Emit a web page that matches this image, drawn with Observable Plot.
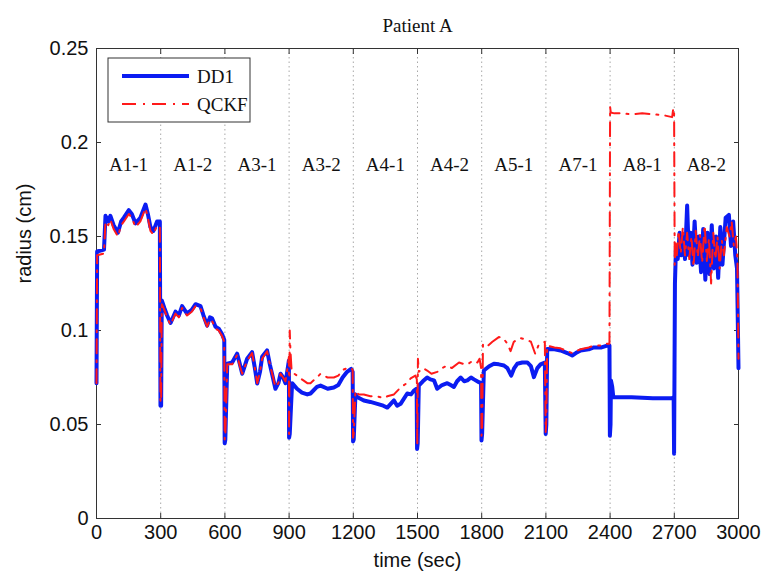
<!DOCTYPE html>
<html><head><meta charset="utf-8">
<script src="https://cdn.jsdelivr.net/npm/d3@7"></script>
<script src="https://cdn.jsdelivr.net/npm/@observablehq/plot@0.6"></script>
<style>body{margin:0;background:#fff}#chart{width:764px;height:575px}</style>
</head><body><div id="chart"></div>
<script>
const title = "Patient A";
const xLabel = "time (sec)";
const yLabel = "radius (cm)";
const xTicks = [0,300,600,900,1200,1500,1800,2100,2400,2700,3000];
const xTickLabels = ["0","300","600","900","1200","1500","1800","2100","2400","2700","3000"];
const yTicks = [0,0.05,0.1,0.15,0.2,0.25];
const yTickLabels = ["0","0.05","0.1","0.15","0.2","0.25"];
const gridTimes = [300,600,900,1200,1500,1800,2100,2400,2700];
const segmentBounds = [0,300,600,900,1200,1500,1800,2100,2400,2700,3000];
const segmentNames = ["A1-1","A1-2","A3-1","A3-2","A4-1","A4-2","A5-1","A7-1","A8-1","A8-2"];
const segmentLabelY = 0.188;
const seriesNames = ["DD1","QCKF"];

const dd1Time = [0,3,35,42,55,65,80,100,115,128,151,165,182,205,229,240,252,266,283,296,299,302,305,317,330,346,369,385,400,423,445,463,486,500,517,530,540,556,571,587,597,599,602,611,634,657,670,681,704,727,740,751,764,774,797,810,821,836,850,860,872,883,895,899,900,903,914,937,960,985,1000,1030,1047,1080,1109,1130,1150,1171,1190,1197,1199,1202,1210,1218,1249,1280,1312,1340,1359,1375,1390,1405,1421,1452,1470,1483,1496,1498,1501,1506,1525,1545,1560,1577,1592,1615,1639,1655,1670,1685,1702,1718,1733,1750,1764,1787,1797,1799,1802,1810,1835,1857,1880,1904,1920,1938,1952,1966,1990,2013,2030,2044,2060,2075,2095,2099,2102,2106,2140,2168,2200,2223,2240,2262,2300,2324,2360,2386,2397,2399,2402,2404,2410,2415,2500,2600,2690,2697,2699,2701,2703,2708,2716,2725,2733,2742,2750,2760,2768,2776,2785,2795,2805,2815,2825,2835,2845,2855,2865,2875,2885,2895,2905,2915,2925,2940,2955,2965,2975,2985,2993,3000];
const dd1Radius = [0.072,0.142,0.143,0.161,0.158,0.161,0.156,0.152,0.158,0.160,0.164,0.162,0.157,0.160,0.167,0.162,0.155,0.153,0.158,0.158,0.060,0.060,0.116,0.112,0.108,0.104,0.110,0.108,0.113,0.109,0.111,0.114,0.113,0.108,0.1026,0.107,0.1065,0.102,0.101,0.098,0.095,0.040,0.042,0.0824,0.083,0.0877,0.082,0.077,0.085,0.0885,0.080,0.0718,0.078,0.086,0.0894,0.082,0.0766,0.069,0.072,0.077,0.075,0.072,0.081,0.084,0.043,0.045,0.072,0.069,0.067,0.066,0.0665,0.070,0.0707,0.069,0.0697,0.071,0.075,0.078,0.0796,0.078,0.041,0.042,0.066,0.0646,0.0628,0.062,0.061,0.060,0.059,0.061,0.0628,0.060,0.061,0.0665,0.066,0.068,0.069,0.037,0.040,0.0707,0.073,0.075,0.074,0.0735,0.069,0.071,0.072,0.071,0.070,0.073,0.075,0.073,0.0735,0.075,0.074,0.0725,0.072,0.0415,0.045,0.0787,0.081,0.0823,0.082,0.0814,0.080,0.076,0.080,0.0823,0.083,0.083,0.081,0.0752,0.080,0.082,0.083,0.045,0.050,0.0902,0.090,0.0894,0.088,0.0867,0.088,0.0894,0.090,0.091,0.091,0.092,0.092,0.044,0.050,0.0734,0.070,0.0645,0.0645,0.064,0.064,0.0645,0.0345,0.0805,0.125,0.145,0.138,0.152,0.140,0.150,0.138,0.1665,0.140,0.152,0.135,0.158,0.136,0.150,0.131,0.154,0.127,0.152,0.130,0.156,0.133,0.150,0.128,0.155,0.135,0.160,0.1615,0.145,0.158,0.140,0.133,0.080];

const qckfTime = [0,3,35,42,55,65,80,100,115,128,151,165,182,205,229,240,252,266,283,296,299,302,305,317,330,346,369,385,400,423,445,463,486,500,517,530,540,556,571,587,597,599,602,611,634,657,670,681,704,727,740,751,764,774,797,810,821,836,850,860,872,883,895,899,900,903,906,912,937,960,985,1000,1030,1047,1080,1109,1130,1150,1171,1190,1197,1199,1202,1210,1225,1249,1280,1312,1340,1359,1390,1421,1450,1468,1490,1497,1499,1502,1506,1525,1545,1565,1592,1615,1639,1660,1694,1720,1733,1760,1780,1790,1797,1799,1802,1806,1810,1830,1850,1880,1900,1920,1935,1950,1980,2010,2030,2050,2065,2080,2095,2099,2102,2106,2140,2168,2200,2223,2240,2262,2300,2324,2360,2386,2397,2400,2403,2420,2450,2500,2550,2600,2650,2690,2695,2699,2702,2706,2712,2720,2730,2740,2750,2760,2770,2780,2790,2800,2810,2820,2830,2842,2852,2862,2872,2882,2892,2902,2912,2922,2932,2945,2958,2968,2978,2988,2995,3000];
const qckfRadius = [0.072,0.140,0.141,0.158,0.156,0.159,0.154,0.150,0.156,0.158,0.162,0.160,0.155,0.158,0.165,0.160,0.153,0.151,0.156,0.155,0.062,0.062,0.114,0.111,0.107,0.103,0.109,0.107,0.112,0.108,0.110,0.113,0.112,0.107,0.102,0.106,0.105,0.101,0.100,0.097,0.094,0.042,0.044,0.082,0.082,0.087,0.081,0.077,0.084,0.088,0.080,0.072,0.078,0.085,0.089,0.082,0.077,0.070,0.072,0.077,0.075,0.073,0.082,0.086,0.045,0.100,0.090,0.078,0.076,0.074,0.072,0.072,0.075,0.077,0.075,0.075,0.076,0.079,0.080,0.080,0.079,0.043,0.045,0.068,0.066,0.066,0.065,0.065,0.064,0.065,0.066,0.0697,0.072,0.0745,0.076,0.074,0.040,0.085,0.078,0.080,0.0787,0.077,0.078,0.080,0.0814,0.080,0.083,0.082,0.082,0.084,0.083,0.085,0.080,0.044,0.048,0.093,0.093,0.092,0.094,0.0965,0.096,0.093,0.089,0.094,0.096,0.095,0.094,0.0876,0.092,0.093,0.094,0.046,0.052,0.092,0.091,0.0905,0.089,0.088,0.089,0.090,0.091,0.092,0.092,0.093,0.093,0.219,0.216,0.2155,0.2155,0.215,0.2155,0.215,0.2145,0.2135,0.218,0.218,0.135,0.148,0.140,0.153,0.141,0.155,0.140,0.152,0.138,0.150,0.134,0.153,0.139,0.151,0.136,0.156,0.137,0.149,0.125,0.152,0.138,0.150,0.133,0.148,0.140,0.155,0.150,0.158,0.145,0.150,0.138,0.085];

const dd1 = dd1Time.map((t, i) => ({t, r: dd1Radius[i]}));
const qckf = qckfTime.map((t, i) => ({t, r: qckfRadius[i]}));
const segments = segmentNames.map((name, i) => ({name, t: (segmentBounds[i] + segmentBounds[i + 1]) / 2}));

const serif = "'Liberation Serif', 'Times New Roman', serif";
const sans = "'Liberation Sans', Arial, sans-serif";
const blue = "#0b1cf2";
const red = "#ff1a1a";
const seriesStyles = [
  {stroke: blue, width: 4, dash: null},
  {stroke: red, width: 2, dash: "14,7,2,7"}
];

function legendMark(index, scales, values, dims) {
  const g = d3.create("svg:g");
  const x0 = dims.marginLeft + 12, y0 = dims.marginTop + 10;
  g.append("rect").attr("x", x0).attr("y", y0).attr("width", 142).attr("height", 64)
    .attr("fill", "#fff").attr("stroke", "#333").attr("stroke-width", 1);
  seriesNames.forEach((name, i) => {
    const s = seriesStyles[i];
    const y = y0 + 18 + i * 28;
    const ln = g.append("line").attr("x1", x0 + 14).attr("x2", x0 + 81).attr("y1", y).attr("y2", y)
      .attr("stroke", s.stroke).attr("stroke-width", s.width);
    if (s.dash) ln.attr("stroke-dasharray", s.dash);
    g.append("text").attr("x", x0 + 89).attr("y", y + 7).attr("font-family", serif)
      .attr("text-anchor", "start").attr("font-size", 19).attr("fill", "#111").text(name);
  });
  return g.node();
}

const chart = Plot.plot({
  width: 764, height: 575,
  marginLeft: 96, marginRight: 26, marginTop: 48, marginBottom: 57,
  style: {fontFamily: sans, fontSize: "20px", background: "#fff", color: "#111"},
  x: {domain: [0, 3000], ticks: xTicks},
  y: {domain: [0, 0.25], ticks: yTicks},
  marks: [
    Plot.gridX(gridTimes, {stroke: "#a8a8a8", strokeOpacity: 1, strokeDasharray: "1.5,3"}),
    Plot.frame({stroke: "#333"}),
    Plot.axisX(xTicks, {anchor: "bottom", tickSize: 0, tickPadding: 6, tickFormat: d => xTickLabels[xTicks.indexOf(d)], label: null, fontSize: 20, fill: "#111"}),
    Plot.axisX(xTicks, {anchor: "bottom", tickSize: -5, tickFormat: () => "", label: null, stroke: "#333"}),
    Plot.axisX(xTicks, {anchor: "top", tickSize: -5, tickFormat: () => "", label: null, stroke: "#333"}),
    Plot.axisY(yTicks, {anchor: "left", tickSize: 0, tickPadding: 8, tickFormat: d => yTickLabels[yTicks.indexOf(d)], label: null, fontSize: 20, fill: "#111"}),
    Plot.axisY(yTicks, {anchor: "left", tickSize: -5, tickFormat: () => "", label: null, stroke: "#333"}),
    Plot.axisY(yTicks, {anchor: "right", tickSize: -5, tickFormat: () => "", label: null, stroke: "#333"}),
    Plot.line(dd1, {x: "t", y: "r", stroke: blue, strokeWidth: 4, strokeLinejoin: "round"}),
    Plot.line(qckf, {x: "t", y: "r", stroke: red, strokeWidth: 2, strokeDasharray: "14,7,2,7"}),
    Plot.text(segments, {x: "t", y: () => segmentLabelY, text: "name", fontFamily: serif, fontSize: 19, fill: "#111"}),
    Plot.text([title], {frameAnchor: "top", lineAnchor: "middle", dy: -23, text: d => d, fontFamily: serif, fontSize: 19, fill: "#111"}),
    Plot.text([xLabel], {frameAnchor: "bottom", lineAnchor: "middle", dy: 42, text: d => d, fontSize: 20, fill: "#111"}),
    Plot.text([yLabel], {frameAnchor: "left", dx: -72, rotate: -90, text: d => d, fontSize: 20, fill: "#111"}),
    legendMark
  ]
});
document.getElementById("chart").appendChild(chart);
</script>
</body></html>
